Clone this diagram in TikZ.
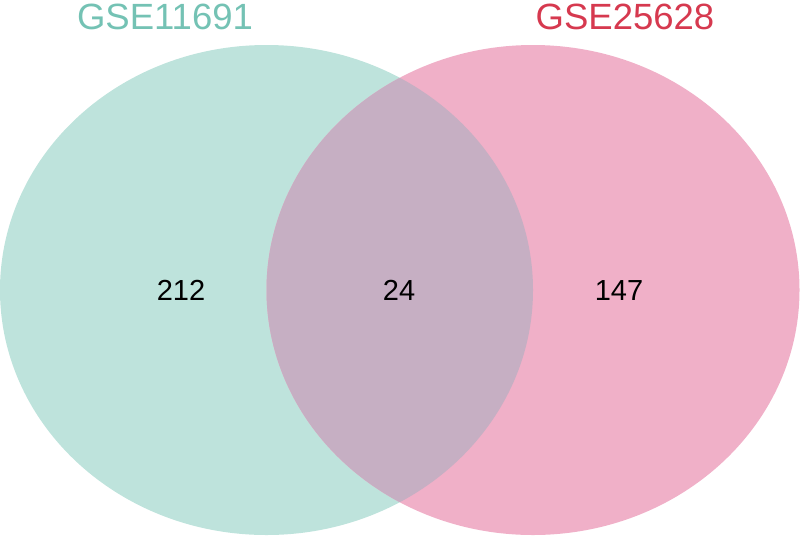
\documentclass[tikz,border=0pt]{standalone}
\usepackage{fontspec}
\setmainfont{Liberation Sans}
\definecolor{tealfill}{RGB}{190,227,220}
\definecolor{pinkfill}{RGB}{240,176,200}
\definecolor{mixfill}{RGB}{198,175,195}
\definecolor{tealtext}{RGB}{116,194,180}
\definecolor{redtext}{RGB}{214,57,79}
\tikzset{
  setlabel/.style={font=\fontsize{36.5}{36.5}\selectfont, inner sep=0pt},
  countlabel/.style={font=\fontsize{29}{29}\selectfont, text=black, inner sep=0pt, anchor=base},
}
\begin{document}
\begin{tikzpicture}[x=1pt,y=-1pt]
\useasboundingbox (0,0) rectangle (800,536);
\fill[tealfill] (266.5,290) ellipse [x radius=266.5, y radius=245];
\fill[pinkfill] (533,290) ellipse [x radius=266.5, y radius=245];
\begin{scope}
  \clip (266.5,290) ellipse [x radius=266.5, y radius=245];
  \fill[mixfill] (533,290) ellipse [x radius=266.5, y radius=245];
\end{scope}
\node[setlabel, text=tealtext] (l1) at (165,16.5) {GSE11691};
\node[setlabel, text=redtext] (l2) at (625,16.5) {GSE25628};
\node[countlabel] (n1) at (181,300.5) {212};
\node[countlabel] (n2) at (399,300.5) {24};
\node[countlabel] (n3) at (619,300.5) {147};
\end{tikzpicture}
\end{document}
